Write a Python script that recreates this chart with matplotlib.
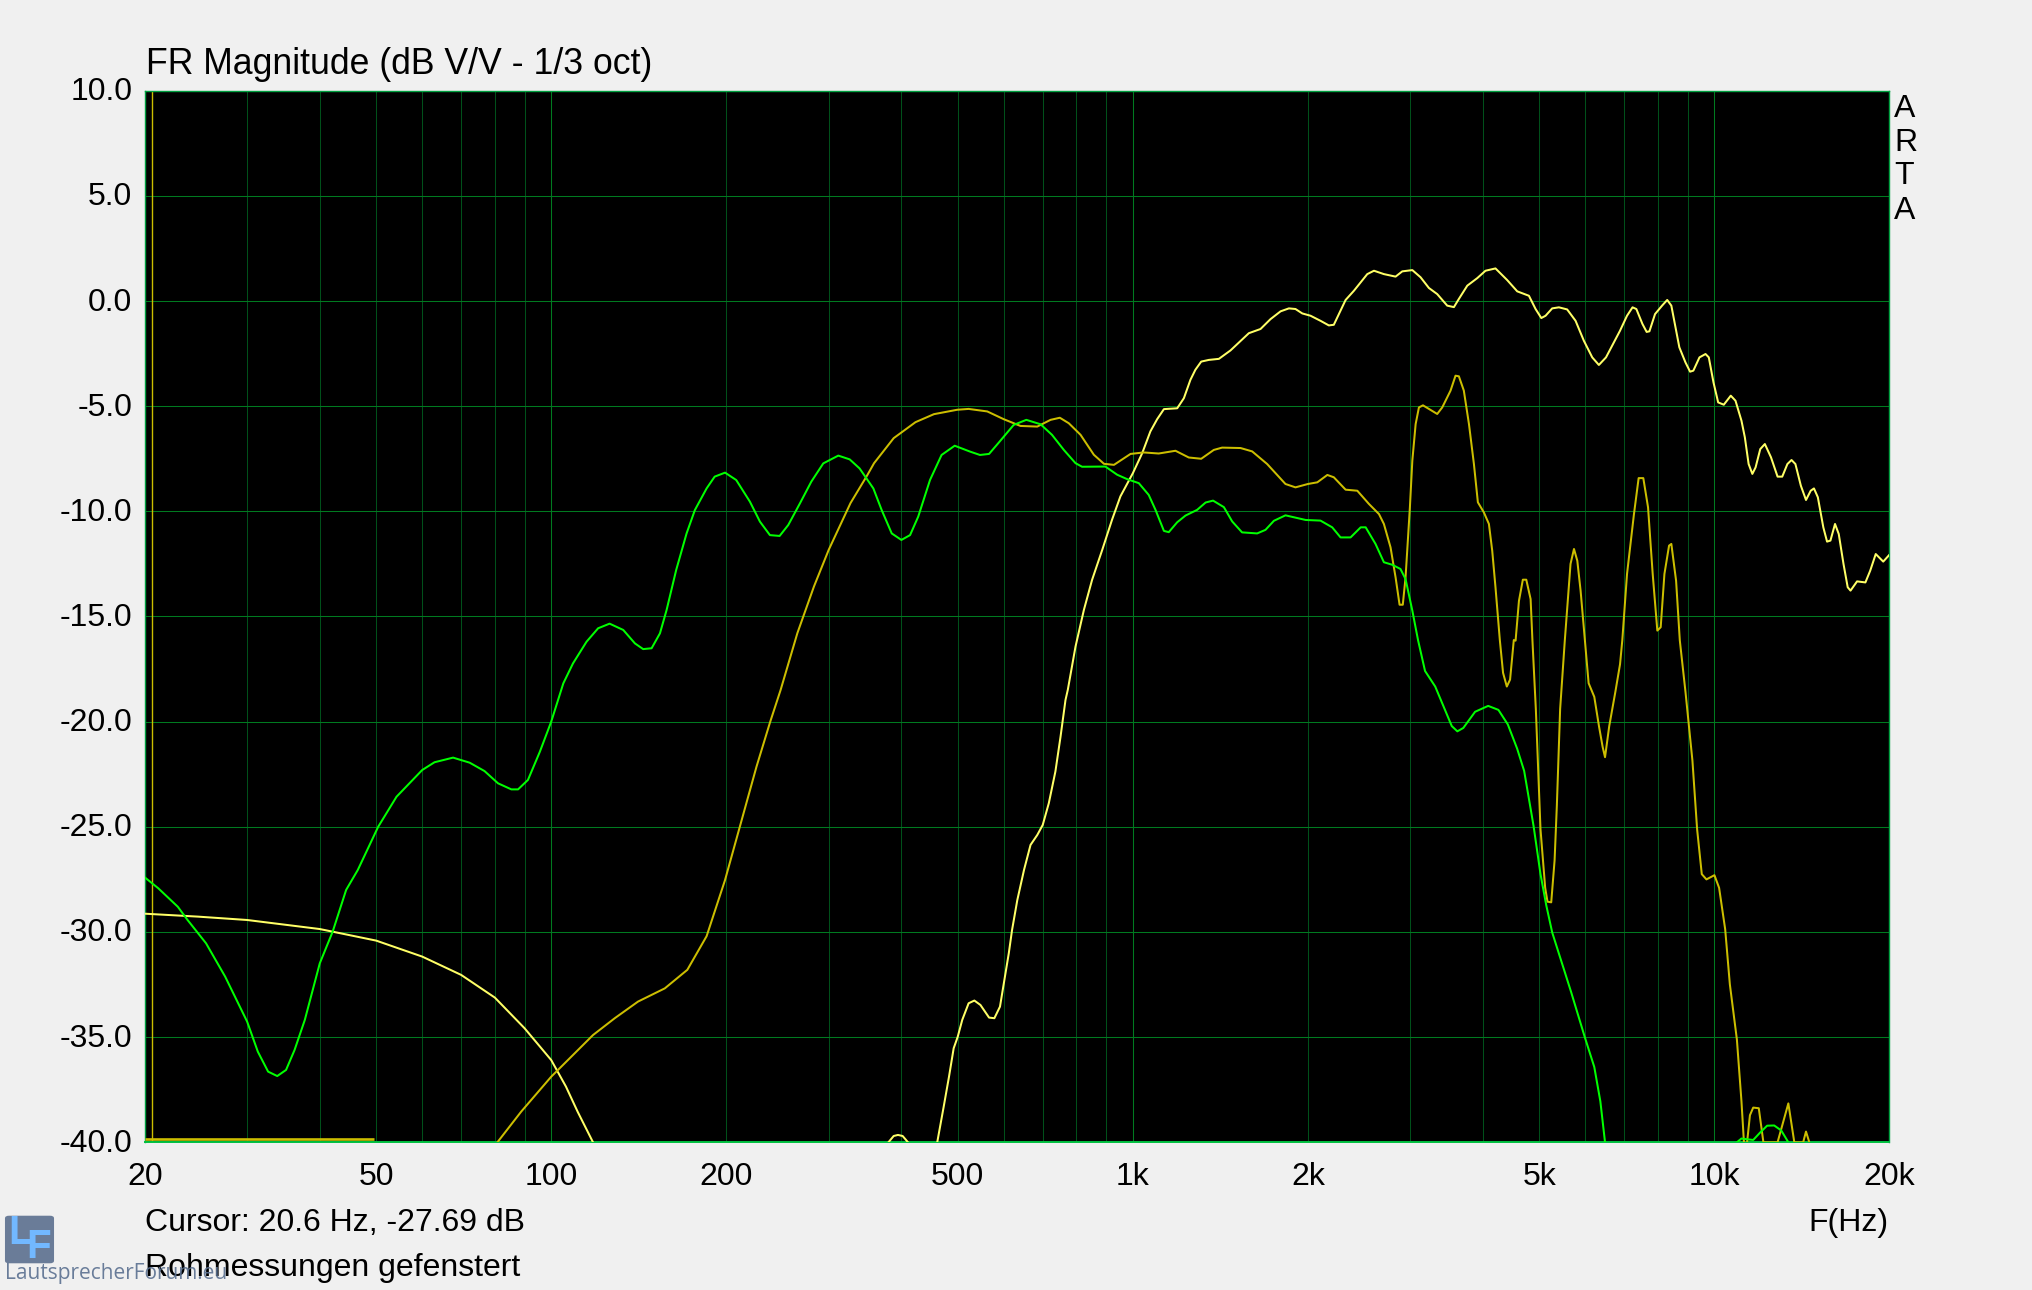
import matplotlib
matplotlib.use("Agg")
import matplotlib.pyplot as plt
from matplotlib.patches import FancyBboxPatch
from matplotlib.transforms import ScaledTranslation

W, H = 2033, 1290

# ---------------------------------------------------------
#  Data (Hz, dB)
# ---------------------------------------------------------

LOW_HZ = [20, 24.7, 30, 40, 50, 60, 70, 80, 90, 100, 106, 111, 118]
LOW_DB = [-29.13, -29.27, -29.43, -29.86, -30.41, -31.17, -32.04, -33.12, -34.58, -36.09, -37.35, -38.54, -40.0]

NOISE_HZ = [20, 49.5]
NOISE_DB = [-39.85, -39.85]

BUMP_HZ = [380, 388, 394.6, 402, 410.6]
BUMP_DB = [-40.0, -39.7, -39.65, -39.7, -40.0]

CURSOR_HZ = 20.6

HIGH_HZ = [461, 473, 483, 492, 500, 509, 522, 534, 547, 566, 578, 591, 600, 612, 620, 633, 650, 667, 685, 700,
           717, 736, 751, 766, 773, 797, 824, 851, 886, 921, 952, 1000, 1038, 1072, 1101, 1131, 1192, 1224,
           1256, 1281, 1311, 1351, 1406, 1472, 1583, 1658, 1725, 1795, 1855, 1904, 1956, 2021, 2102, 2173,
           2216, 2261, 2322, 2400, 2530, 2598, 2702, 2830, 2906, 3024, 3124, 3229, 3337, 3472, 3565, 3636,
           3759, 3911, 4040, 4203, 4401, 4581, 4798, 4926, 5039, 5125, 5261, 5403, 5582, 5771, 5964, 6165,
           6329, 6510, 6882, 7075, 7231, 7341, 7520, 7647, 7731, 7905, 8128, 8295, 8432, 8703, 8917, 9082,
           9200, 9425, 9654, 9780, 9963, 10149, 10378, 10669, 10870, 11130, 11280, 11450, 11620, 11770,
           11990, 12210, 12510, 12840, 13080, 13350, 13570, 13780, 14080, 14370, 14640, 14830, 15060,
           15390, 15620, 15830, 16120, 16360, 16670, 16950, 17140, 17590, 18180, 18530, 18940, 19510, 20000]
HIGH_DB = [-40.0, -38.3, -36.88, -35.53, -34.98, -34.18, -33.39, -33.26, -33.47, -34.07, -34.1, -33.55, -32.44,
           -31.01, -29.9, -28.48, -27.05, -25.86, -25.39, -24.91, -23.88, -22.37, -20.73, -18.97, -18.49,
           -16.43, -14.68, -13.26, -11.83, -10.4, -9.29, -8.19, -7.23, -6.2, -5.62, -5.14, -5.1, -4.62,
           -3.75, -3.27, -2.88, -2.8, -2.75, -2.35, -1.53, -1.33, -0.86, -0.49, -0.35, -0.38, -0.59, -0.7,
           -0.94, -1.16, -1.13, -0.62, 0.05, 0.49, 1.28, 1.44, 1.28, 1.16, 1.41, 1.47, 1.13, 0.62, 0.33,
           -0.22, -0.29, 0.1, 0.73, 1.09, 1.44, 1.55, 1.0, 0.46, 0.25, -0.38, -0.81, -0.7, -0.35, -0.3,
           -0.4, -0.94, -1.89, -2.68, -3.04, -2.68, -1.41, -0.7, -0.3, -0.38, -1.09, -1.47, -1.44, -0.62,
           -0.22, 0.05, -0.22, -2.2, -2.92, -3.36, -3.31, -2.68, -2.52, -2.68, -3.87, -4.82, -4.93, -4.5,
           -4.74, -5.69, -6.48, -7.75, -8.22, -7.91, -7.04, -6.8, -7.43, -8.35, -8.35, -7.75, -7.56, -7.75,
           -8.78, -9.46, -9.02, -8.91, -9.33, -10.76, -11.44, -11.39, -10.6, -11.08, -12.5, -13.61, -13.77,
           -13.33, -13.38, -12.82, -12.03, -12.39, -12.06]

MID_HZ = [80.8, 88.8, 100, 106.2, 118, 128.6, 141, 156.8, 171.4, 185, 199, 211, 225.4, 238, 248, 265, 283, 300,
          327, 349, 359, 388, 423, 455, 499, 522, 562, 600, 641, 685, 722, 749, 776, 813, 857, 892, 928, 991,
          1044, 1108, 1184, 1248, 1311, 1378, 1424, 1532, 1604, 1702, 1830, 1904, 2000, 2076, 2160, 2216, 2322,
          2432, 2547, 2650, 2702, 2774, 2830, 2875, 2912, 2944, 2995, 3024, 3064, 3104, 3154, 3251, 3337, 3404,
          3518, 3588, 3636, 3708, 3784, 3859, 3920, 4014, 4095, 4149, 4203, 4276, 4331, 4396, 4453, 4519, 4551,
          4612, 4684, 4748, 4830, 4865, 4931, 5023, 5117, 5164, 5241, 5311, 5359, 5429, 5530, 5657, 5735, 5811,
          5887, 5989, 6077, 6215, 6331, 6424, 6485, 6594, 6756, 6882, 6944, 7075, 7272, 7408, 7546, 7689, 7832,
          7977, 8084, 8204, 8356, 8432, 8592, 8719, 8917, 9166, 9338, 9512, 9689, 10000, 10187, 10435, 10630,
          10930, 11130, 11240]
MID_DB = [-40.0, -38.54, -36.88, -36.16, -34.9, -34.1, -33.31, -32.68, -31.8, -30.2, -27.53, -25.0, -22.14, -20.0,
          -18.49, -15.79, -13.57, -11.83, -9.61, -8.31, -7.71, -6.52, -5.76, -5.38, -5.17, -5.13, -5.25, -5.62,
          -5.94, -5.97, -5.65, -5.55, -5.81, -6.36, -7.31, -7.74, -7.79, -7.27, -7.2, -7.25, -7.12, -7.44, -7.5,
          -7.08, -6.97, -6.99, -7.15, -7.75, -8.7, -8.86, -8.7, -8.62, -8.27, -8.38, -8.97, -9.02, -9.65, -10.13,
          -10.6, -11.71, -13.14, -14.44, -14.44, -13.14, -9.81, -7.59, -5.85, -5.06, -4.96, -5.18, -5.37, -5.06,
          -4.26, -3.55, -3.58, -4.26, -5.85, -7.75, -9.57, -10.05, -10.6, -11.87, -13.61, -16.12, -17.68, -18.33,
          -18.0, -16.12, -16.15, -14.26, -13.25, -13.25, -14.17, -16.13, -19.4, -25.12, -27.9, -28.56, -28.59,
          -26.6, -23.98, -19.4, -16.15, -12.5, -11.79, -12.35, -13.77, -16.13, -18.17, -18.82, -20.21, -21.2,
          -21.69, -20.21, -18.58, -17.27, -16.13, -12.98, -10.13, -8.42, -8.42, -9.81, -12.98, -15.67, -15.51,
          -12.98, -11.63, -11.55, -13.3, -16.13, -18.58, -21.85, -25.12, -27.25, -27.5, -27.3, -27.9, -29.87,
          -32.49, -35.11, -38.05, -40.0]

MID_TAIL_HZ = [11380, 11510, 11660, 11920, 12140, 12840, 13400, 13720, 14210, 14370, 14560]
MID_TAIL_DB = [-40.0, -38.71, -38.35, -38.38, -40.0, -40.0, -38.15, -40.0, -40.0, -39.49, -40.0]

GREEN_HZ = [20, 21.1, 22.8, 23.7, 25.5, 27.5, 30, 31.3, 32.6, 33.8, 35.0, 36.2, 37.7, 40, 42.1, 44.4, 46.5, 50.4,
            54.2, 60, 63, 67.8, 72.4, 76.8, 81, 85.4, 87.7, 91.2, 95.6, 100, 104.9, 109, 115, 120.4, 126, 133,
            139.3, 143.9, 148.8, 153.8, 157.9, 164, 170.9, 176.6, 185, 191, 199, 208, 219.6, 228.5, 237.7, 247,
            255.6, 267.7, 280, 293.6, 311.6, 326, 339, 358, 370, 385, 400, 414, 427.6, 448, 469, 494, 525, 546,
            566, 587, 624, 656, 694, 726, 761, 797, 818, 897, 940, 978, 1024, 1065, 1094, 1131, 1153, 1192,
            1232, 1290, 1334, 1374, 1434, 1482, 1541, 1636, 1691, 1748, 1830, 1982, 2102, 2202, 2276, 2368, 2465,
            2514, 2614, 2702, 2793, 2885, 2944, 3024, 3093, 3180, 3311, 3437, 3535, 3614, 3700, 3877, 4083, 4252,
            4413, 4579, 4708, 4887, 5023, 5138, 5262, 5459, 5665, 5989, 6215, 6366, 6485]
GREEN_DB = [-27.4, -27.92, -28.8, -29.43, -30.54, -32.12, -34.26, -35.69, -36.64, -36.85, -36.56, -35.61, -34.18,
            -31.49, -29.98, -28.0, -27.05, -25.0, -23.57, -22.3, -21.93, -21.71, -21.95, -22.35, -22.93, -23.22,
            -23.22, -22.77, -21.43, -20.0, -18.18, -17.23, -16.2, -15.56, -15.34, -15.64, -16.28, -16.55, -16.51,
            -15.8, -14.69, -12.79, -11.05, -9.94, -8.91, -8.35, -8.16, -8.51, -9.54, -10.49, -11.13, -11.17,
            -10.65, -9.62, -8.59, -7.72, -7.35, -7.53, -7.96, -8.91, -9.94, -11.05, -11.36, -11.13, -10.25,
            -8.51, -7.32, -6.88, -7.16, -7.32, -7.27, -6.76, -5.89, -5.65, -5.86, -6.36, -7.08, -7.71, -7.88,
            -7.87, -8.26, -8.47, -8.66, -9.22, -9.93, -10.93, -10.99, -10.52, -10.2, -9.93, -9.58, -9.49, -9.8,
            -10.48, -11.0, -11.05, -10.88, -10.45, -10.19, -10.41, -10.44, -10.76, -11.24, -11.24, -10.76,
            -10.76, -11.55, -12.42, -12.54, -12.74, -13.22, -14.72, -16.12, -17.59, -18.33, -19.4, -20.21,
            -20.46, -20.3, -19.53, -19.25, -19.44, -20.13, -21.28, -22.34, -24.96, -27.25, -28.72, -30.03,
            -31.42, -32.82, -35.02, -36.42, -38.05, -40.0]

GREEN_TAIL_HZ = [10930, 11130, 11660, 11990, 12320, 12670, 13030, 13400]
GREEN_TAIL_DB = [-40.0, -39.82, -39.89, -39.53, -39.21, -39.2, -39.44, -40.0]

Y_TICKS = [10, 5, 0, -5, -10, -15, -20, -25, -30, -35, -40]
X_TICKS = [20, 50, 100, 200, 500, 1000, 2000, 5000, 10000, 20000]
X_LABELS = ["20", "50", "100", "200", "500", "1k", "2k", "5k", "10k", "20k"]
X_MINOR = [30, 40, 60, 70, 80, 90, 300, 400, 600, 700, 800, 900,
           3000, 4000, 6000, 7000, 8000, 9000]
X_DECADES = [100, 1000, 10000]

BRIGHT = "#FFFF66"
OLIVE = "#CCBE00"
GREEN = "#00FF00"
TEXT_FONT = ["Liberation Sans", "DejaVu Sans"]
CURVE = dict(lw=1.45, solid_joinstyle="round")


def px_text(fig, x, y, s, **kwargs):
    """Places figure text by pixel position, measured from the top left."""
    return fig.text(x / W, 1 - y / H, s, **kwargs)


def main() -> None:
    plt.rcParams["font.family"] = TEXT_FONT
    fig = plt.figure(figsize=(W / 100, H / 100), dpi=100, facecolor="#F0F0F0")
    ax = fig.add_axes([144.7 / W, 1 - 1142.3 / H, (1889.5 - 144.7) / W, (1142.3 - 90.7) / H])
    ax.set_facecolor("black")

    ax.set_xscale("log")
    ax.set_xlim(20, 20000)
    ax.set_ylim(-40, 10)

    ax.set_xticks(X_TICKS, X_LABELS)
    ax.set_xticks(X_MINOR, minor=True)
    ax.set_xticklabels([], minor=True)
    ax.set_yticks(Y_TICKS, [f"{v:.1f}" for v in Y_TICKS])
    ax.tick_params(axis="both", which="both", length=0, labelsize=23, labelcolor="black")
    ax.tick_params(axis="x", which="major", pad=14)
    ax.tick_params(axis="y", pad=9)

    # the y labels sit a little above their grid lines
    nudge = ScaledTranslation(0, 2 / 100, fig.dpi_scale_trans)
    for label in ax.get_yticklabels():
        label.set_transform(label.get_transform() + nudge)

    ax.grid(True, axis="x", which="both", color="#00501A", lw=0.75, zorder=1)
    ax.grid(True, axis="y", color="#007A20", lw=0.75, zorder=1)
    for f in X_DECADES:
        ax.axvline(f, color="#007A20", lw=0.75, zorder=1)
    ax.set_axisbelow(True)
    for spine in ax.spines.values():
        spine.set_color("#00A040")
        spine.set_linewidth(1.0)
    ax.spines["bottom"].set_color("#00C040")
    ax.spines["bottom"].set_linewidth(1.4)

    ax.axvline(CURSOR_HZ, color=OLIVE, lw=1.0, zorder=2)
    ax.plot(NOISE_HZ, NOISE_DB, color=OLIVE, lw=1.9, zorder=3, solid_capstyle="butt")

    ax.plot(LOW_HZ, LOW_DB, color=BRIGHT, zorder=3, **CURVE)
    ax.plot(BUMP_HZ, BUMP_DB, color=BRIGHT, zorder=3, **CURVE)
    ax.plot(HIGH_HZ, HIGH_DB, color=BRIGHT, zorder=3, **CURVE)
    ax.plot(MID_HZ, MID_DB, color=OLIVE, zorder=4, **CURVE)
    ax.plot(MID_TAIL_HZ, MID_TAIL_DB, color=OLIVE, zorder=4, **CURVE)
    ax.plot(GREEN_HZ, GREEN_DB, color=GREEN, zorder=5, **CURVE)
    ax.plot(GREEN_TAIL_HZ, GREEN_TAIL_DB, color=GREEN, zorder=5, **CURVE)

    px_text(fig, 146, 64, "FR Magnitude (dB V/V - 1/3 oct)", fontsize=25.7, va="center", color="black")
    for y, letter in zip([109, 143, 176, 211], "ARTA"):
        px_text(fig, 1894, y, letter, fontsize=23, va="center", color="black")
    px_text(fig, 145, 1223, "Cursor: 20.6 Hz, -27.69 dB", fontsize=23, va="center", color="black")
    px_text(fig, 1889, 1223, "F(Hz)", fontsize=23, va="center", ha="right", color="black")
    px_text(fig, 145, 1268, "Rohmessungen gefenstert", fontsize=23, va="center", color="black")

    # forum logo in the lower left corner
    box = FancyBboxPatch((7 / W, 1 - 1262 / H), 45 / W, 45 / H, boxstyle="round,pad=0.001,rounding_size=0.002",
                         transform=fig.transFigure, facecolor="#6A7C98", edgecolor="none", zorder=5)
    fig.add_artist(box)
    px_text(fig, 8, 1233, "L", fontsize=29, fontweight="bold", va="center", color="#72B8FF", zorder=6)
    px_text(fig, 26, 1247, "F", fontsize=29, fontweight="bold", va="center", color="#72B8FF", zorder=6)
    px_text(fig, 5, 1273, "LautsprecherForum.eu", fontsize=15, va="center",
            color="#5A7090", alpha=0.9, family=["Open Sans", "DejaVu Sans"], zorder=6)

    fig.savefig("out.png", dpi=100, facecolor=fig.get_facecolor())


if __name__ == "__main__":
    main()
